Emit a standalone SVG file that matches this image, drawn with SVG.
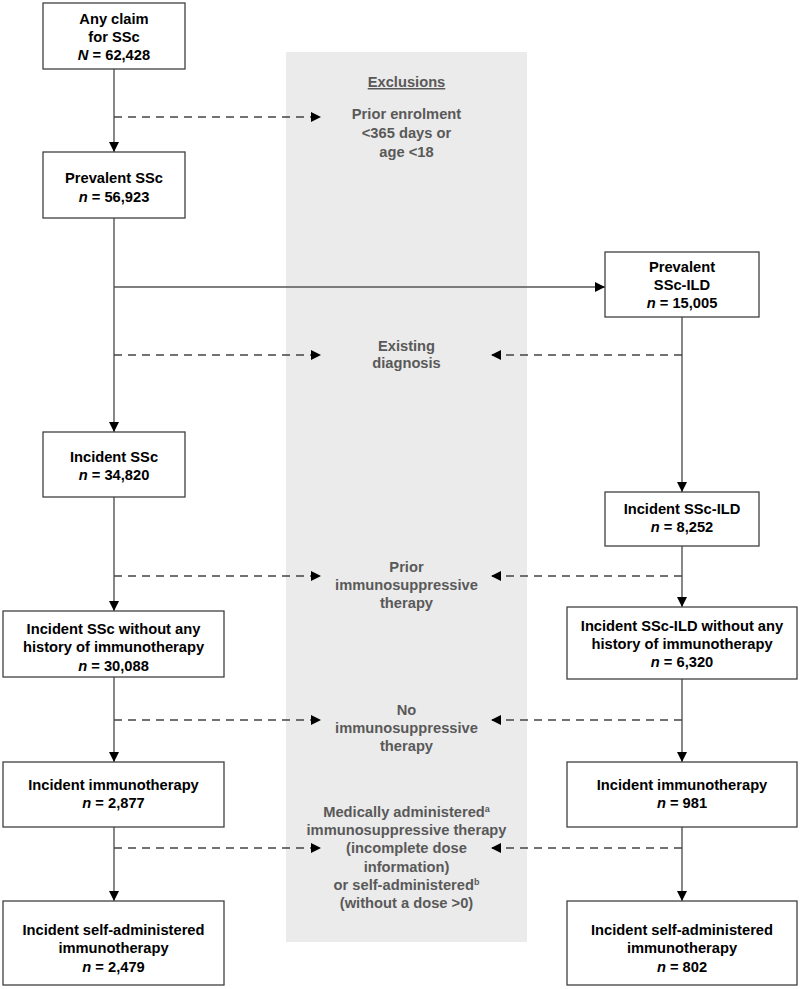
<svg xmlns="http://www.w3.org/2000/svg" width="800" height="989" viewBox="0 0 800 989">
<style>
.box{fill:#fff;stroke:#404040;stroke-width:1.3}
.t{font-family:"Liberation Sans",Arial,sans-serif;font-size:14.7px;font-weight:bold;fill:#000;text-anchor:middle}
.g{font-family:"Liberation Sans",Arial,sans-serif;font-size:14.7px;font-weight:bold;fill:#595959;text-anchor:middle}
.ln{stroke:#555;stroke-width:1.4;fill:none}
.dl{stroke:#444;stroke-width:1.3;fill:none;stroke-dasharray:8 6}
</style>
<defs>
<marker id="ah" viewBox="0 0 10 10" refX="10" refY="5" markerWidth="10" markerHeight="10" markerUnits="userSpaceOnUse" orient="auto">
<path d="M0,0 L10,5 L0,10 Z" fill="#000"/>
</marker>
</defs>
<rect id="exclusions-panel" x="286" y="52" width="241" height="890" fill="#ebebeb"/>
<g id="connectors">
<path class="ln" d="M114,69 V152" marker-end="url(#ah)"/>
<path class="dl" d="M114,117 H321" marker-end="url(#ah)"/>
<path class="ln" d="M114,218 V432" marker-end="url(#ah)"/>
<path class="ln" d="M114,287 H605" marker-end="url(#ah)"/>
<path class="dl" d="M114,355 H321" marker-end="url(#ah)"/>
<path class="ln" d="M682,317 V492" marker-end="url(#ah)"/>
<path class="dl" d="M682,355 H491" marker-end="url(#ah)"/>
<path class="ln" d="M114,497 V611" marker-end="url(#ah)"/>
<path class="dl" d="M114,576 H321" marker-end="url(#ah)"/>
<path class="ln" d="M682,546 V607" marker-end="url(#ah)"/>
<path class="dl" d="M682,576 H491" marker-end="url(#ah)"/>
<path class="ln" d="M114,677 V762" marker-end="url(#ah)"/>
<path class="dl" d="M114,720 H321" marker-end="url(#ah)"/>
<path class="ln" d="M682,679 V762" marker-end="url(#ah)"/>
<path class="dl" d="M682,720 H491" marker-end="url(#ah)"/>
<path class="ln" d="M114,827 V901" marker-end="url(#ah)"/>
<path class="dl" d="M114,848 H321" marker-end="url(#ah)"/>
<path class="ln" d="M682,827 V901" marker-end="url(#ah)"/>
<path class="dl" d="M682,848 H491" marker-end="url(#ah)"/>
</g>
<g id="exclusions-text">
<text class="g" x="406.5" y="87" text-decoration="underline">Exclusions</text>
<text class="g" x="406.5" y="119">Prior enrolment</text>
<text class="g" x="406.5" y="138">&lt;365 days or</text>
<text class="g" x="406.5" y="157">age &lt;18</text>
<text class="g" x="406.5" y="351">Existing</text>
<text class="g" x="406.5" y="368">diagnosis</text>
<text class="g" x="406.5" y="572">Prior</text>
<text class="g" x="406.5" y="590">immunosuppressive</text>
<text class="g" x="406.5" y="608">therapy</text>
<text class="g" x="406.5" y="715">No</text>
<text class="g" x="406.5" y="733">immunosuppressive</text>
<text class="g" x="406.5" y="751">therapy</text>
<text class="g" x="406.5" y="817">Medically administered<tspan font-size="9" dy="-5">a</tspan></text>
<text class="g" x="406.5" y="835">immunosuppressive therapy</text>
<text class="g" x="406.5" y="853">(incomplete dose</text>
<text class="g" x="406.5" y="872">information)</text>
<text class="g" x="406.5" y="890">or self-administered<tspan font-size="9" dy="-5">b</tspan></text>
<text class="g" x="406.5" y="908">(without a dose &gt;0)</text>
</g>
<g id="any-claim">
<rect class="box" x="43" y="3" width="142" height="66"/>
<text class="t" x="114" y="23.5">Any claim</text>
<text class="t" x="114" y="42">for SSc</text>
<text class="t" x="114" y="60"><tspan font-style="italic">N</tspan> = 62,428</text>
</g>
<g id="prevalent-ssc">
<rect class="box" x="43" y="152" width="142" height="66"/>
<text class="t" x="114" y="183">Prevalent SSc</text>
<text class="t" x="114" y="202"><tspan font-style="italic">n</tspan> = 56,923</text>
</g>
<g id="prevalent-ssc-ild">
<rect class="box" x="605" y="252" width="154" height="65"/>
<text class="t" x="682" y="272">Prevalent</text>
<text class="t" x="682" y="290">SSc-ILD</text>
<text class="t" x="682" y="308"><tspan font-style="italic">n</tspan> = 15,005</text>
</g>
<g id="incident-ssc">
<rect class="box" x="43" y="432" width="142" height="65"/>
<text class="t" x="114" y="462">Incident SSc</text>
<text class="t" x="114" y="480"><tspan font-style="italic">n</tspan> = 34,820</text>
</g>
<g id="incident-ssc-ild">
<rect class="box" x="605" y="492" width="154" height="54"/>
<text class="t" x="682" y="514">Incident SSc-ILD</text>
<text class="t" x="682" y="532"><tspan font-style="italic">n</tspan> = 8,252</text>
</g>
<g id="incident-ssc-no-history">
<rect class="box" x="3" y="611" width="221" height="66"/>
<text class="t" x="113.5" y="634">Incident SSc without any</text>
<text class="t" x="113.5" y="652">history of immunotherapy</text>
<text class="t" x="113.5" y="671"><tspan font-style="italic">n</tspan> = 30,088</text>
</g>
<g id="incident-ssc-ild-no-history">
<rect class="box" x="567" y="607" width="230" height="72"/>
<text class="t" x="682" y="631">Incident SSc-ILD without any</text>
<text class="t" x="682" y="649">history of immunotherapy</text>
<text class="t" x="682" y="667"><tspan font-style="italic">n</tspan> = 6,320</text>
</g>
<g id="incident-immuno-ssc">
<rect class="box" x="3" y="762" width="221" height="65"/>
<text class="t" x="113.5" y="790">Incident immunotherapy</text>
<text class="t" x="113.5" y="808"><tspan font-style="italic">n</tspan> = 2,877</text>
</g>
<g id="incident-immuno-ssc-ild">
<rect class="box" x="567" y="762" width="230" height="65"/>
<text class="t" x="682" y="790">Incident immunotherapy</text>
<text class="t" x="682" y="808"><tspan font-style="italic">n</tspan> = 981</text>
</g>
<g id="self-admin-ssc">
<rect class="box" x="3" y="901" width="221" height="84"/>
<text class="t" x="113.5" y="935">Incident self-administered</text>
<text class="t" x="113.5" y="953">immunotherapy</text>
<text class="t" x="113.5" y="972"><tspan font-style="italic">n</tspan> = 2,479</text>
</g>
<g id="self-admin-ssc-ild">
<rect class="box" x="567" y="901" width="230" height="84"/>
<text class="t" x="682" y="935">Incident self-administered</text>
<text class="t" x="682" y="953">immunotherapy</text>
<text class="t" x="682" y="972"><tspan font-style="italic">n</tspan> = 802</text>
</g>
</svg>
